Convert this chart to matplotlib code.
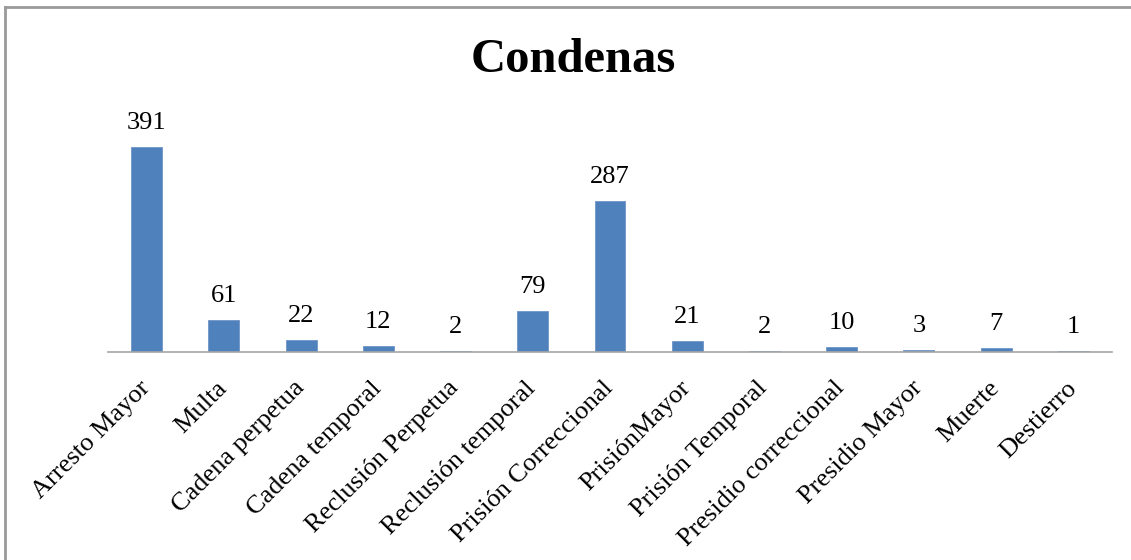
import matplotlib
matplotlib.use("Agg")
import matplotlib.pyplot as plt
from matplotlib.lines import Line2D

categories = ["Arresto Mayor", "Multa", "Cadena perpetua", "Cadena temporal",
              "Reclusión Perpetua", "Reclusión temporal", "Prisión Correccional",
              "PrisiónMayor", "Prisión Temporal", "Presidio correccional",
              "Presidio Mayor", "Muerte", "Destierro"]
values = [391, 61, 22, 12, 2, 79, 287, 21, 2, 10, 3, 7, 1]

W, H = 1131, 560
fig = plt.figure(figsize=(W / 100, H / 100), dpi=100)
fig.patch.set_facecolor("white")
serif = ["Liberation Serif", "DejaVu Serif"]

ax = fig.add_axes([108 / W, 1 - 352 / H, (1112 - 108) / W, 450 * 0.525 / H])
x = list(range(len(categories)))
ax.bar(x, values, width=0.40, color="#4F81BD", edgecolor="#6F95C8", linewidth=0.6)
ax.set_xlim(-0.5, len(categories) - 0.5)
ax.set_ylim(0, 450)

for s in ("top", "right", "left"):
    ax.spines[s].set_visible(False)
ax.spines["bottom"].set_color("#A6A6A6")
ax.spines["bottom"].set_linewidth(1.2)
ax.set_yticks([])
ax.set_xticks([])

# category names, slanted at 45 degrees and ending under each bar
for xi, name in zip(x, categories):
    ax.annotate(name, (xi, 0), xycoords=("data", "axes fraction"),
                xytext=(4, -37), textcoords="offset pixels",
                rotation=45, rotation_mode="anchor", ha="right", va="baseline",
                family=serif, fontsize=19)

for xi, v in zip(x, values):
    ax.annotate(str(v), (xi, v), xytext=(0, 18), textcoords="offset pixels",
                ha="center", va="baseline", family=serif, fontsize=19)

fig.text(573 / W, 1 - 72 / H, "Condenas", ha="center", va="baseline",
         family=serif, fontweight="bold", fontsize=35)

# outer frame (left and top edges)
fig.add_artist(Line2D([5 / W, 5 / W], [0, 1 - 7 / H], transform=fig.transFigure,
                      color="#9A9A9A", linewidth=2))
fig.add_artist(Line2D([5 / W, 1], [1 - 7 / H, 1 - 7 / H], transform=fig.transFigure,
                      color="#9A9A9A", linewidth=2))

fig.savefig("out.png", dpi=100)
